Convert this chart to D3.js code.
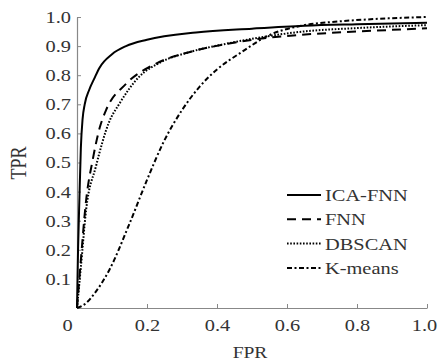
<!DOCTYPE html>
<html>
<head>
<meta charset="utf-8">
<script src="https://cdn.jsdelivr.net/npm/d3@7"></script>
<style>
  body { margin: 0; background: #fff; }
  text { font-family: "Liberation Serif", "Times New Roman", serif; fill: #333; }
</style>
</head>
<body>
<div id="graph"></div>
<script>
// ROC curves, points as [FPR, TPR]
var icaFnn = [[0,0],[0.003,0.2],[0.007,0.38],[0.011,0.55],[0.016,0.65],[0.022,0.7],[0.035,0.75],
  [0.05,0.79],[0.064,0.825],[0.1,0.872],[0.14,0.9],[0.2,0.922],[0.34,0.947],[0.5,0.96],
  [0.65,0.97],[0.8,0.975],[1.0,0.98]];
var fnn = [[0,0],[0.01,0.15],[0.026,0.37],[0.045,0.51],[0.065,0.62],[0.083,0.68],[0.14,0.77],
  [0.226,0.84],[0.323,0.88],[0.418,0.905],[0.514,0.924],[0.63,0.938],[0.8,0.95],[1.0,0.961]];
var dbscan = [[0,0],[0.011,0.14],[0.026,0.337],[0.054,0.486],[0.092,0.64],[0.12,0.7],[0.178,0.795],
  [0.24,0.845],[0.323,0.88],[0.418,0.906],[0.514,0.928],[0.646,0.95],[0.8,0.962],[1.0,0.972]];
var kmeans = [[0,0],[0.026,0.017],[0.05,0.05],[0.092,0.13],[0.15,0.29],[0.2,0.44],[0.246,0.567],
  [0.3,0.68],[0.35,0.76],[0.4,0.82],[0.466,0.876],[0.55,0.938],[0.64,0.97],[0.75,0.985],
  [0.85,0.993],[1.0,1.0]];

var seriesNames = ["ICA-FNN", "FNN", "DBSCAN", "K-means"];
var seriesData = [icaFnn, fnn, dbscan, kmeans];
var dashes = [null, "9,6", "1.6,1.6", "5,2.5,2,2.5"];

var xTicks = [0, 0.2, 0.4, 0.6, 0.8, 1.0];
var yTicks = [0.1, 0.2, 0.3, 0.4, 0.5, 0.6, 0.7, 0.8, 0.9, 1.0];

var width = 438, height = 363;
var sx = 1.2; // the picture's text is a bit wide

var svg = d3.select("div#graph")
    .append("svg")
    .attr("width", width)
    .attr("height", height)

var x = d3.scaleLinear().domain([0, 1]).range([77, 427]);
var y = d3.scaleLinear().domain([0, 1]).range([308, 17]);

// axes
var xAxis = svg.append("g")
    .attr("transform", "translate(0," + y(0) + ")")
    .call(d3.axisBottom(x).tickValues(xTicks).tickSizeInner(-4).tickSizeOuter(0)
	  .tickFormat(function(d) { return d === 0 ? "0" : d3.format(".1f")(d) }));
var yAxis = svg.append("g")
    .attr("transform", "translate(" + x(0) + ",0)")
    .call(d3.axisLeft(y).tickValues(yTicks).tickSizeInner(-4).tickSizeOuter(0)
	  .tickFormat(d3.format(".1f")));

[xAxis, yAxis].forEach(function(g) {
    g.select(".domain").attr("stroke", "#888").attr("stroke-width", 1.2);
    g.selectAll(".tick line").attr("stroke", "#888");
    g.selectAll("text").attr("font-size", 17).attr("fill", "#333")
	.style("font-family", "'Liberation Serif', serif");
});
// last label sits at the edge; nudge it a little inward
xAxis.selectAll("text")
    .attr("y", 23).attr("dy", 0)
    .attr("x", function(d) { return d === 0 ? -10 / sx : (d === 1 ? -3 / sx : 0) })
    .attr("transform", "scale(" + sx + ",1)");
yAxis.selectAll("text")
    .attr("x", -6 / sx)
    .attr("transform", "scale(" + sx + ",1)");

// axis titles
svg.append("text")
    .attr("transform", "translate(250,358) scale(1.15,1)")
    .attr("text-anchor", "middle")
    .attr("font-size", 17)
    .text("FPR");
svg.append("text")
    .attr("transform", "translate(26,163) scale(1.25,1) rotate(-90)")
    .attr("text-anchor", "middle")
    .attr("font-size", 18)
    .text("TPR");

// curves
var line = d3.line()
    .x(function(d) { return x(d[0]) })
    .y(function(d) { return y(d[1]) })
    .curve(d3.curveMonotoneX);

svg.selectAll("path.curve")
    .data(seriesData)
    .enter()
    .append("path")
    .attr("class", "curve")
    .attr("fill", "none")
    .attr("stroke", "#000")
    .attr("stroke-width", 2)
    .attr("stroke-dasharray", function(d, i) { return dashes[i] })
    .attr("d", line);

// legend
var legend = svg.selectAll("g.legend")
    .data(seriesNames)
    .enter()
    .append("g")
    .attr("class", "legend")
    .attr("transform", function(d, i) { return "translate(287," + (195 + i * 24.3) + ")" });
legend.append("line")
    .attr("x1", 0).attr("x2", 34)
    .attr("stroke", "#000")
    .attr("stroke-width", 2)
    .attr("stroke-dasharray", function(d, i) { return dashes[i] });
legend.append("text")
    .attr("transform", "translate(38,6) scale(" + sx + ",1)")
    .attr("font-size", 17)
    .text(function(d) { return d });
</script>
</body>
</html>
